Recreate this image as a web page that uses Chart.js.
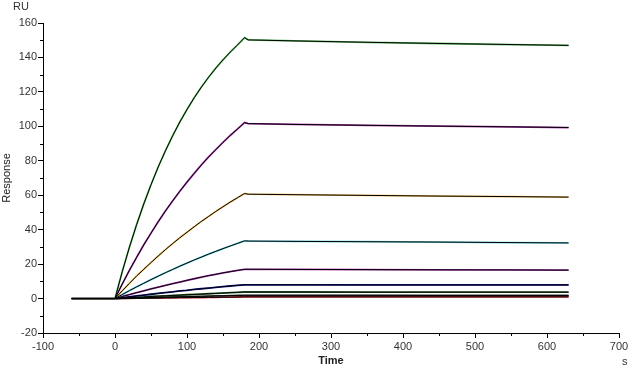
<!DOCTYPE html>
<html>
<head>
<meta charset="utf-8">
<script src="https://cdn.jsdelivr.net/npm/chart.js@4.4.1/dist/chart.umd.min.js"></script>
<style>
  html, body { margin: 0; padding: 0; background: #fff; }
  #wrap { width: 632px; height: 371px; }
</style>
</head>
<body>
<div id="wrap"><canvas id="myChart"></canvas></div>
<script>
// time points (s) shared by all curves
var times = [-60, -30, 0,
  10, 20, 30, 40, 50, 60, 70, 80, 90, 100, 110, 120, 130, 140, 150, 160, 170, 180,
  185, 250, 350, 450, 550, 630];

// responses (RU), highest concentration first
var resp1 = [0, 0, 0, 15.5, 29.8, 42.9, 55.0, 66.1, 76.4, 85.8, 94.5, 102.5, 109.8, 116.6, 122.8, 128.5, 133.8, 138.6, 143.1, 147.2, 151.5, 150.2, 149.6, 148.8, 148.1, 147.5, 147.0];
var resp2 = [0, 0, 0, 8.4, 16.4, 23.9, 31.2, 38.0, 44.6, 50.8, 56.7, 62.3, 67.6, 72.7, 77.6, 82.2, 86.5, 90.7, 94.7, 98.4, 102.2, 101.6, 101.1, 100.6, 100.1, 99.7, 99.3];
var resp3 = [0, 0, 0, 4.5, 8.8, 13.1, 17.0, 20.9, 24.7, 28.4, 31.9, 35.3, 38.5, 41.7, 44.8, 47.7, 50.6, 53.3, 56.0, 58.5, 61.0, 60.6, 60.3, 59.9, 59.5, 59.2, 58.9];
var resp4 = [0, 0, 0, 2.3, 4.6, 6.8, 8.9, 11.0, 13.0, 15.0, 16.9, 18.8, 20.6, 22.4, 24.1, 25.8, 27.4, 29.0, 30.5, 32.0, 33.5, 33.4, 33.2, 33.0, 32.8, 32.5, 32.3];
var resp5 = [0, 0, 0, 1.2, 2.3, 3.4, 4.5, 5.6, 6.6, 7.6, 8.6, 9.6, 10.6, 11.5, 12.4, 13.3, 14.1, 14.9, 15.6, 16.3, 17.0, 17.0, 16.9, 16.8, 16.7, 16.6, 16.5];
var resp6 = [0, 0, 0, 0.5, 1.0, 1.5, 2.0, 2.5, 3.0, 3.5, 3.9, 4.4, 4.8, 5.3, 5.7, 6.1, 6.5, 6.9, 7.3, 7.7, 8.0, 8.0, 8.0, 7.9, 7.9, 7.9, 7.9];
var resp7 = [0, 0, 0, 0.2, 0.5, 0.7, 0.9, 1.2, 1.4, 1.6, 1.8, 2.0, 2.2, 2.4, 2.6, 2.8, 3.0, 3.2, 3.4, 3.6, 3.8, 3.8, 3.8, 3.7, 3.7, 3.7, 3.7];
var resp8 = [0, 0, 0, 0.1, 0.2, 0.3, 0.4, 0.6, 0.7, 0.8, 0.9, 1.0, 1.1, 1.2, 1.3, 1.4, 1.5, 1.6, 1.7, 1.8, 1.9, 1.9, 1.9, 1.9, 1.8, 1.8, 1.8];
var resp9 = [0, 0, 0, 0.1, 0.1, 0.2, 0.2, 0.3, 0.3, 0.4, 0.4, 0.5, 0.5, 0.6, 0.6, 0.7, 0.7, 0.8, 0.8, 0.9, 1.0, 1.0, 1.0, 1.0, 1.0, 1.0, 1.0];

var curves = [resp1, resp2, resp3, resp4, resp5, resp6, resp7, resp8, resp9];
var curveColors = ["#5ab85e", "#a033a8", "#f0c060", "#60d0e0", "#a838b0", "#101090", "#2a6a2a", "#404040", "#d83030"];

var xTicks = [-100, 0, 100, 200, 300, 400, 500, 600, 700];
var yTicks = [-20, 0, 20, 40, 60, 80, 100, 120, 140, 160];

function points(vals) {
  return vals.map(function (v, i) { return { x: times[i], y: v }; });
}

var datasets = [];
curves.forEach(function (vals, i) {
  // measured curve (coloured)
  datasets.push({
    data: points(vals),
    borderColor: curveColors[i],
    borderWidth: 1.8,
    pointRadius: 0,
    tension: 0,
    fill: false,
    order: 2
  });
  // fitted curve (black, drawn on top)
  datasets.push({
    data: points(vals),
    borderColor: "#000",
    borderWidth: 1,
    pointRadius: 0,
    tension: 0,
    fill: false,
    order: 1
  });
});

// minor ticks + corner unit labels
var extras = {
  id: 'extras',
  afterDraw: function (chart) {
    var c = chart.ctx, xs = chart.scales.x, ys = chart.scales.y;
    var a = chart.chartArea;
    c.save();
    c.strokeStyle = "#000";
    c.lineWidth = 1;
    c.beginPath();
    for (var v = -50; v < 700; v += 100) {
      var px = Math.round(xs.getPixelForValue(v)) + 0.5;
      c.moveTo(px, a.bottom); c.lineTo(px, a.bottom + 3);
    }
    for (var w = -10; w < 160; w += 20) {
      var py = Math.round(ys.getPixelForValue(w)) + 0.5;
      c.moveTo(a.left - 3, py); c.lineTo(a.left, py);
    }
    c.stroke();
    c.fillStyle = "#333";
    c.font = "11px 'Liberation Sans', Arial, sans-serif";
    c.textBaseline = "middle";
    c.fillText("RU", 13, 7);
    c.fillText("s", 622, 362);
    c.restore();
  }
};

var tickFont = { family: "'Liberation Sans', Arial, sans-serif", size: 11 };

var ctx = document.getElementById("myChart");
var myChart = new Chart(ctx, {
  type: 'line',
  data: { datasets: datasets },
  options: {
    responsive: true,
    maintainAspectRatio: false,
    animation: false,
    events: [],
    layout: { padding: { top: 23, right: 13, left: 0, bottom: 0 } },
    plugins: { legend: { display: false }, tooltip: { enabled: false } },
    scales: {
      x: {
        type: 'linear',
        min: -100,
        max: 700,
        afterBuildTicks: function (s) { s.ticks = xTicks.map(function (v) { return { value: v }; }); },
        afterFit: function (s) { s.height = 38; },
        border: { color: "#000", width: 1 },
        grid: { drawOnChartArea: false, color: "#000", tickLength: 5 },
        ticks: { color: "#333", font: tickFont, padding: 2, maxRotation: 0 },
        title: { display: true, text: "Time", color: "#222", font: { family: tickFont.family, size: 11, weight: 'bold' }, padding: { top: 0, bottom: 3 } }
      },
      y: {
        min: -20,
        max: 160,
        afterBuildTicks: function (s) { s.ticks = yTicks.map(function (v) { return { value: v }; }); },
        afterFit: function (s) { s.width = 43; },
        border: { color: "#000", width: 1 },
        grid: { drawOnChartArea: false, color: "#000", tickLength: 5 },
        ticks: { color: "#333", font: tickFont, padding: 1 },
        title: { display: true, text: "Response", color: "#222", font: { family: tickFont.family, size: 11 }, padding: { top: 0, bottom: 0 } }
      }
    }
  },
  plugins: [extras]
});
</script>
</body>
</html>
